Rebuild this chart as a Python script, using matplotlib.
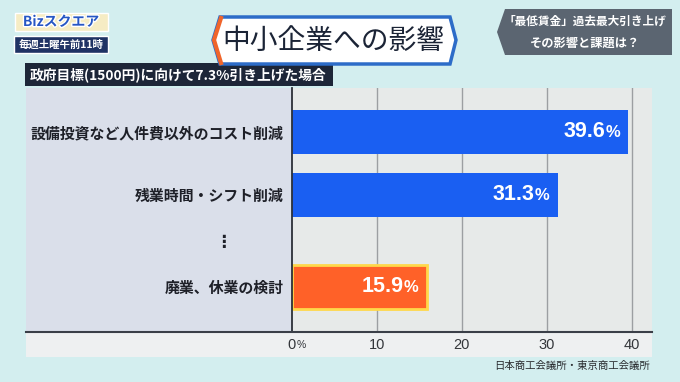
import matplotlib
matplotlib.use("Agg")
import matplotlib.pyplot as plt
import matplotlib.patches as mpatches
import matplotlib.transforms as mtransforms
import matplotlib.patheffects as pe
from matplotlib.lines import Line2D

plt.rcParams['font.family'] = ['Noto Sans CJK JP', 'DejaVu Sans']

# data
categories = ['設備投資など人件費以外のコスト削減', '残業時間・シフト削減', '廃業、休業の検討']
values = [39.6, 31.3, 15.9]
x_ticks = [0, 10, 20, 30, 40]
x_ticklabels = ['0', '10', '20', '30', '40']
title = '中小企業への影響'
subtitle = '政府目標(1500円)に向けて7.3%引き上げた場合'
topic_lines = ['「最低賃金」過去最大引き上げ', 'その影響と課題は？']
source = '日本商工会議所・東京商工会議所'

# layout (bar rows, the gap row holds the "⋮")
ypos = [0, 1, 2.46]
gap_y = 1.75
bar_colors = ['#1a5ff2', '#1a5ff2', '#ff6128']
edge_colors = ['none', 'none', '#ffd84a']

W, H = 680, 382
fig = plt.figure(figsize=(W / 100, H / 100), dpi=100)
fig.patch.set_facecolor('#d3eeef')


def fx(x):
    return x / W


def fy(y):
    return 1 - y / H


def poly(pts, **kw):
    p = mpatches.Polygon([(fx(a), fy(b)) for a, b in pts], closed=True,
                         transform=fig.transFigure, **kw)
    fig.patches.append(p)
    return p


# panels behind the chart
poly([(26, 88), (292, 88), (292, 332), (26, 332)], facecolor='#dadfea', edgecolor='none', zorder=-2)
poly([(26, 332), (652, 332), (652, 357), (26, 357)], facecolor='#eef0f1', edgecolor='none', zorder=-2)

# main axes
x0, x1, ytop, ybot = 291.7, 652, 88, 332
ax = fig.add_axes([fx(x0), fy(ybot), (x1 - x0) / W, (ybot - ytop) / H])
ax.set_facecolor('#e7eae9')
ax.set_xlim(0, (x1 - x0) / 8.5)
ax.set_ylim((ybot - 131.7) / 63, -(131.7 - ytop) / 63)

for t in x_ticks[1:]:
    ax.axvline(t, color='#9c9fa2', lw=1, zorder=0)

ax.barh(ypos, values, height=0.70, color=bar_colors, edgecolor=edge_colors,
        linewidth=2, zorder=2)

for y, v in zip(ypos, values):
    ax.annotate('{:.1f}'.format(v), (v, y), xytext=(-23.5 * 0.72, 0), textcoords='offset points',
                ha='right', va='center', color='white', fontsize=15.5, fontweight='bold',
                family='Liberation Sans', zorder=3)
    ax.annotate('%', (v, y), xytext=(-8 * 0.72, -0.5), textcoords='offset points',
                ha='right', va='center', color='white', fontsize=12, fontweight='bold',
                family='Liberation Sans', zorder=3)

ax.set_yticks(ypos, categories)
ax.tick_params(axis='y', length=0, pad=6, labelsize=10.75, labelcolor='#1e2028')
for lab in ax.get_yticklabels():
    lab.set_fontweight('bold')

ax.set_xticks(x_ticks, x_ticklabels)
ax.tick_params(axis='x', length=0, pad=4.5, labelsize=10.5, labelcolor='#33363a')
for lab in ax.get_xticklabels():
    lab.set_family('Liberation Sans')
ax.annotate('%', (0, 0), xycoords=('data', 'axes fraction'), xytext=(3.8, -9.3),
            textcoords='offset points', ha='left', va='center', fontsize=7.5,
            color='#33363a', family='Liberation Sans')

bt = mtransforms.blended_transform_factory(fig.transFigure, ax.transData)
ax.text(fx(223), gap_y, '⋮', transform=bt, ha='center', va='center',
        fontsize=12, fontweight='bold', color='#1e2028')

for s in ['top', 'right', 'bottom']:
    ax.spines[s].set_visible(False)
ax.spines['left'].set_color('#2c3038')
ax.spines['left'].set_linewidth(1.3)

fig.lines.append(Line2D([fx(26), fx(652)], [fy(332), fy(332)], transform=fig.transFigure,
                        color='#3a3f48', lw=1.5))

# subtitle box
poly([(25, 63), (333, 63), (333, 86), (25, 86)], facecolor='#1d2638', edgecolor='none', zorder=1)
fig.text(fx(30), fy(74.5), subtitle, ha='left', va='center', color='white',
         fontsize=9.9, fontweight='bold')

# title box
poly([(213, 40), (220, 17), (450, 17), (456, 40), (450, 64), (220, 64)],
     facecolor='white', edgecolor='#2d6cc8', lw=2.5, zorder=1)
fig.lines.append(Line2D([fx(221), fx(214), fx(221)], [fy(18), fy(40), fy(63)],
                        transform=fig.transFigure, color='#f0652b', lw=3))
fig.text(fx(333), fy(41), title, ha='center', va='center', color='#1b2436', fontsize=20)

# topic box top right
poly([(497, 32), (505, 9), (672, 9), (672, 55), (505, 55)], facecolor='#5b6571',
     edgecolor='none', zorder=1)
fig.text(fx(585), fy(21), topic_lines[0], ha='center', va='center', color='white',
         fontsize=8.4, fontweight='bold')
fig.text(fx(585), fy(43), topic_lines[1], ha='center', va='center', color='white',
         fontsize=8.8, fontweight='bold')

# logo
poly([(15, 13), (108, 13), (108, 31), (15, 31)], facecolor='#f6ecc4', edgecolor='white',
     lw=1, zorder=1)
fig.text(fx(61), fy(22), 'Bizスクエア', ha='center', va='center', color='#2656c4',
         fontsize=10, fontweight='bold',
         path_effects=[pe.withStroke(linewidth=2, foreground='white')])
poly([(14, 36), (108, 36), (108, 53), (14, 53)], facecolor='#1f3264', edgecolor='white',
     lw=1, zorder=1)
fig.text(fx(61), fy(44.5), '毎週土曜午前11時', ha='center', va='center', color='white',
         fontsize=7.5, fontweight='bold')

fig.text(fx(650), fy(366), source, ha='right', va='center', color='#2a2c30', fontsize=7.5)

fig.savefig('out.png', dpi=100, facecolor=fig.get_facecolor())
